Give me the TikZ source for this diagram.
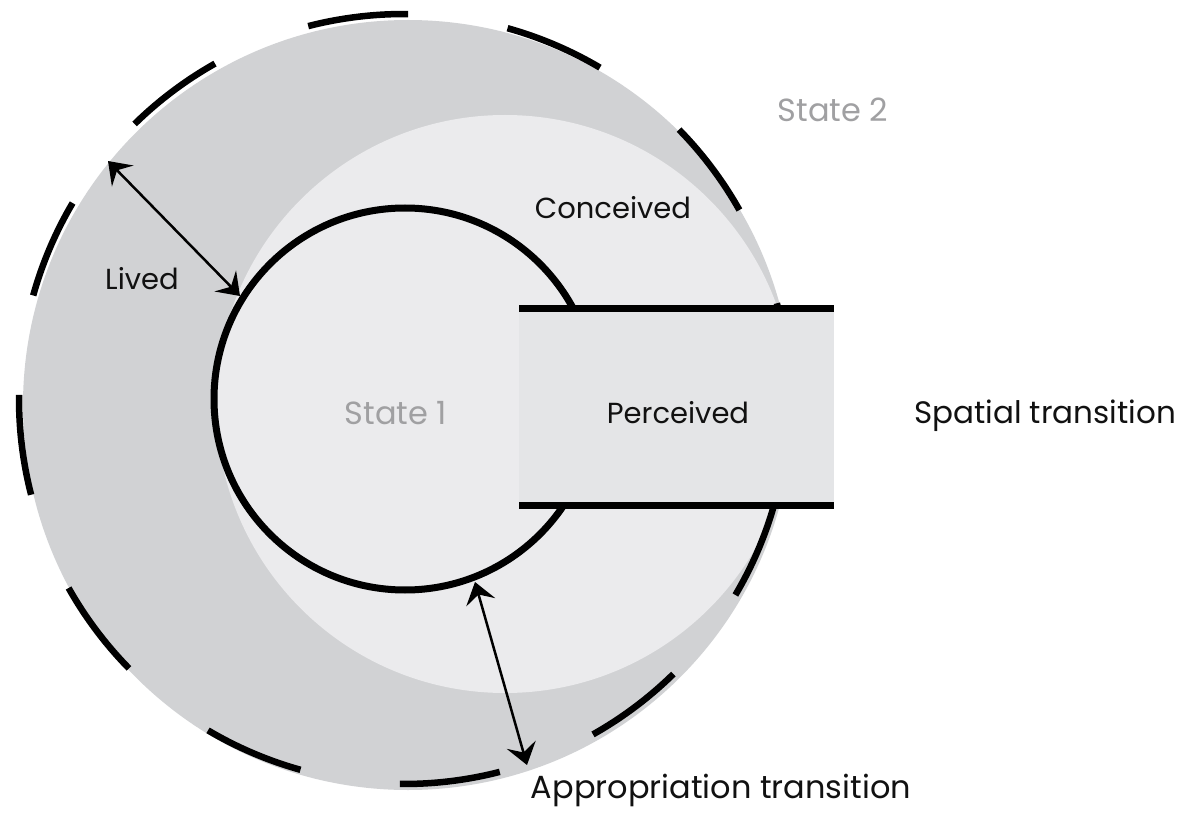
\documentclass[tikz,border=0pt]{standalone}
\usepackage{fontspec}
\setmainfont{Poppins}
\usetikzlibrary{arrows.meta,calc}
\definecolor{outerg}{RGB}{209,210,212}
\definecolor{innerg}{RGB}{235,235,237}
\definecolor{rectg}{RGB}{228,229,231}
\definecolor{labg}{RGB}{160,160,162}
\definecolor{ink}{RGB}{17,17,17}
\tikzset{
  ringdash/.style={line width=6.5pt, black, line cap=butt},
  statering/.style={line width=7pt, black},
  edgeline/.style={line width=7pt, black},
  dimarrow/.style={line width=2.5pt, black,
    {Stealth[length=21pt,width=30pt,inset=8pt]}-{Stealth[length=21pt,width=30pt,inset=8pt]}},
  lab/.style={text=ink, anchor=base, inner sep=0pt},
  graylab/.style={font=\fontsize{32}{38}\selectfont, text=labg, anchor=base, inner sep=0pt}
}
\begin{document}
\begin{tikzpicture}[x=1pt,y=1pt]
\useasboundingbox (0,0) rectangle (1189,-818);
% centres
\coordinate (fillc) at (408,-405);
\coordinate (lightc) at (505,-404);
\coordinate (dashc) at (404,-399);
\coordinate (s1c) at (405,-399);
% outer and light discs
\fill[outerg] (fillc) circle[radius=385];
\fill[innerg] (lightc) circle[radius=289];
% dashed outer ring
\foreach \k in {0,...,11}{
  \pgfmathsetmacro{\sa}{-(15.6+30*\k)}
  \pgfmathsetmacro{\ea}{-(30.6+30*\k)}
  \draw[ringdash] ($(dashc)+(\sa:385)$) arc[start angle=\sa, end angle=\ea, radius=385];
}
% state 1 circle
\draw[statering] (s1c) circle[radius=191];
% perceived band
\coordinate (rtl) at (519,-309);
\coordinate (rtr) at (834,-309);
\coordinate (rbl) at (519,-505);
\coordinate (rbr) at (834,-505);
\fill[rectg] (rtl) rectangle (rbr);
\draw[edgeline] (rtl) -- (rtr);
\draw[edgeline] (rbl) -- (rbr);
% arrows
\coordinate (livedA) at (108,-161);
\coordinate (livedB) at (240,-296);
\draw[dimarrow] (livedA) -- (livedB);
\coordinate (appA) at (475,-582);
\coordinate (appB) at (527,-765);
\draw[dimarrow] (appA) -- (appB);
% labels
\node[graylab] (state2) at (833,-122) {State 2};
\node[lab, font=\fontsize{29}{35}\selectfont] (conceived) at (613,-219) {Conceived};
\node[lab, font=\fontsize{29}{35}\selectfont] (lived) at (142,-290) {Lived};
\node[graylab] (state1) at (396,-424) {State 1};
\node[lab, font=\fontsize{29}{35}\selectfont] (perceived) at (678,-423) {Perceived};
\node[lab, font=\fontsize{31}{37}\selectfont] (spatial) at (1045,-423) {Spatial transition};
\node[lab, font=\fontsize{32}{38}\selectfont] (approp) at (721,-798) {Appropriation transition};
\end{tikzpicture}
\end{document}
